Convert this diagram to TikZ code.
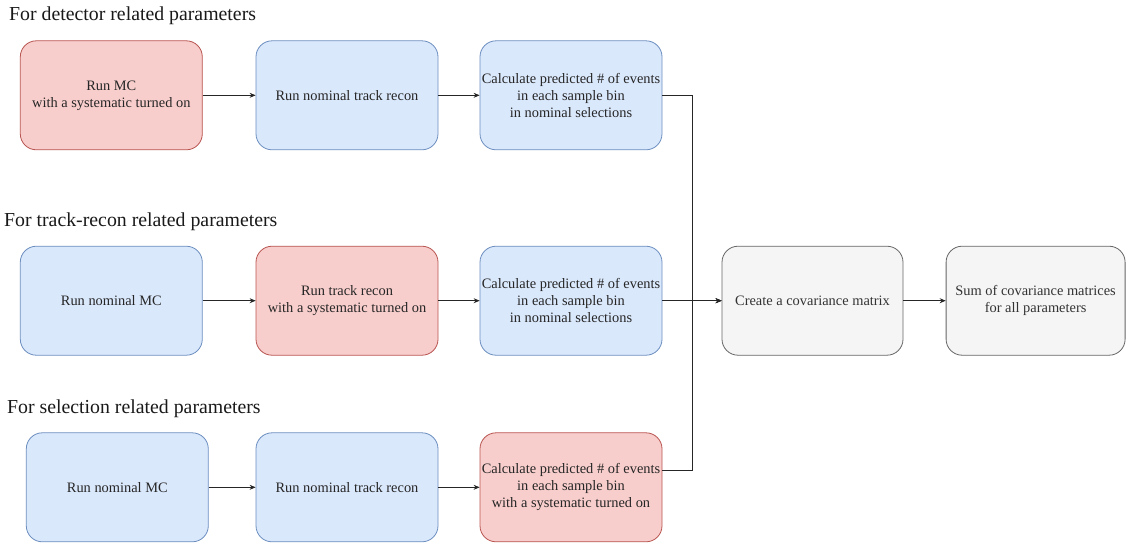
\documentclass[tikz,border=0pt]{standalone}
\usepackage{fontspec}
\setmainfont{Liberation Serif}
\usetikzlibrary{arrows.meta}
\definecolor{redfill}{HTML}{F8CECC}
\definecolor{redline}{HTML}{B85450}
\definecolor{bluefill}{HTML}{DAE8FC}
\definecolor{blueline}{HTML}{6C8EBF}
\definecolor{grayfill}{HTML}{F5F5F5}
\definecolor{grayline}{HTML}{666666}
\definecolor{graytext}{HTML}{333333}
\tikzset{
  boxbase/.style={rectangle, rounded corners=16pt, minimum width=182pt, minimum height=109pt,
    inner sep=0pt, align=center, line width=0.8pt, font=\fontsize{14.4}{17}\selectfont, text=black!85},
  redbox/.style={boxbase, draw=redline, fill=redfill},
  bluebox/.style={boxbase, draw=blueline, fill=bluefill},
  graybox/.style={boxbase, draw=grayline, fill=grayfill, text=graytext},
  arr/.style={-{Stealth[length=6pt,width=5pt]}, line width=0.8pt, draw=black!85},
  title/.style={anchor=base west, inner sep=0pt, font=\fontsize{19.8}{22}\selectfont, text=black!90}
}
\begin{document}
\begin{tikzpicture}[x=1pt,y=-1pt]
\useasboundingbox (0,0) rectangle (1126,542);
% titles
\node[title] (t1) at (9,20) {For detector related parameters};
\node[title] (t2) at (4,226) {For track-recon related parameters};
\node[title] (t3) at (7,413) {For selection related parameters};
% row 1
\node[redbox] (A1) at (111.3,95.3) {Run MC\\with a systematic turned on};
\node[bluebox] (A2) at (347,95.3) {Run nominal track recon};
\node[bluebox] (A3) at (571,95.3) {Calculate predicted \# of events\\in each sample bin\\in nominal selections};
% row 2
\node[bluebox] (B1) at (111.3,300.7) {Run nominal MC};
\node[redbox] (B2) at (347,300.7) {Run track recon\\with a systematic turned on};
\node[bluebox] (B3) at (571,300.7) {Calculate predicted \# of events\\in each sample bin\\in nominal selections};
% row 3
\node[bluebox] (C1) at (117.3,487.3) {Run nominal MC};
\node[bluebox] (C2) at (347,487.3) {Run nominal track recon};
\node[redbox] (C3) at (571,487.3) {Calculate predicted \# of events\\in each sample bin\\with a systematic turned on};
% right
\node[graybox, minimum width=181pt] (D1) at (812.5,300.7) {Create a covariance matrix};
\node[graybox, minimum width=179pt] (D2) at (1035.6,300.7) {Sum of covariance matrices\\for all parameters};
% junction
\coordinate (J) at (692,300.7);
% connectors
\draw[arr] (A1) -- (A2);
\draw[arr] (A2) -- (A3);
\draw[arr] (B1) -- (B2);
\draw[arr] (B2) -- (B3);
\draw[arr] (C1.east |- C2.west) -- (C2);
\draw[arr] (C2) -- (C3);
\draw[arr] (A3.east) -| (J) -- (D1.west);
\draw[arr] (B3.east) -- (D1.west);
\draw[arr] ([yshift=17.3pt]C3.east) -| (J) -- (D1.west);
\draw[arr] (D1) -- (D2);
\end{tikzpicture}
\end{document}
